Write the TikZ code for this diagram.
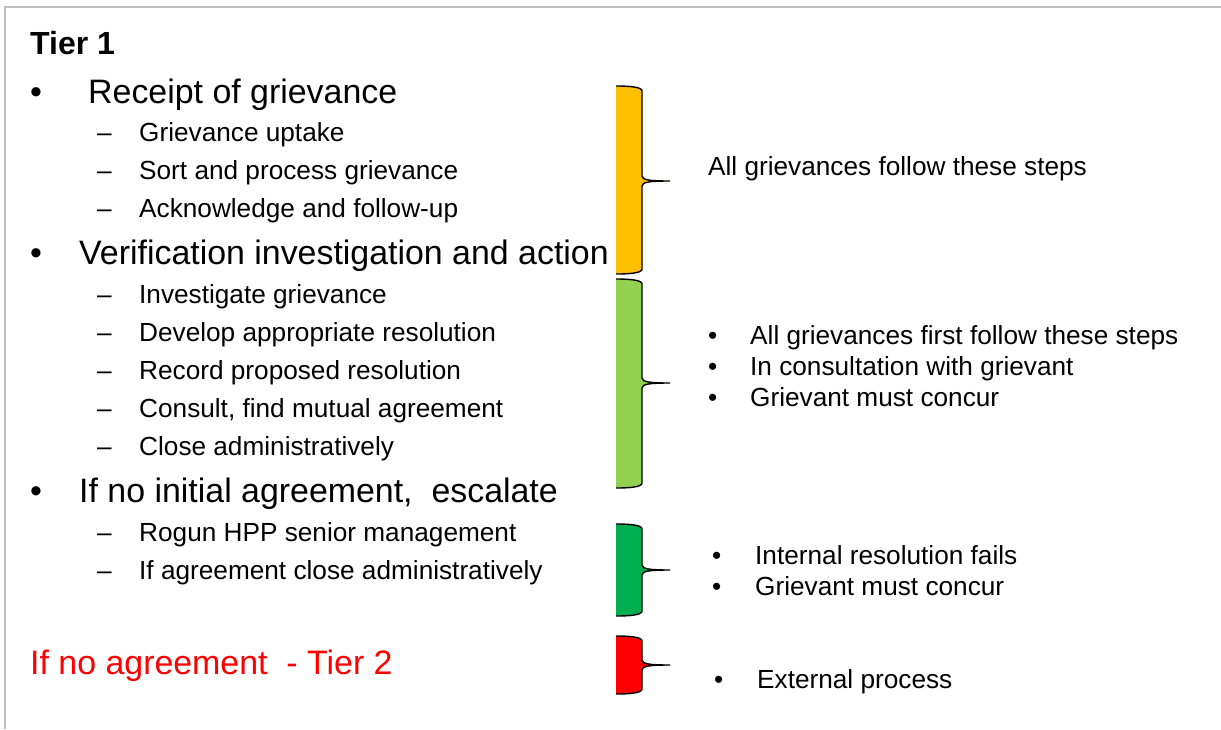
\documentclass[tikz,border=0pt]{standalone}
\usepackage{fontspec}
\setmainfont{Liberation Sans}
\definecolor{bYellow}{HTML}{FFC000}
\definecolor{bLGreen}{HTML}{92D050}
\definecolor{bGreen}{HTML}{00B050}
\definecolor{bRed}{HTML}{FF0000}
\definecolor{frameGray}{HTML}{BFBFBF}
\newcommand\mybrace[4]{%
  \fill[#1] (616,#2) .. controls (630,#2) and (642,#2+1) .. (642,#2+5) -- (642,#4-5)
    .. controls (642,#4-1) and (650,#4) .. (670,#4) .. controls (650,#4) and (642,#4+1) .. (642,#4+5)
    -- (642,#3-5) .. controls (642,#3-1) and (630,#3) .. (616,#3) -- cycle;
  \draw[bracestroke] (616,#2) .. controls (630,#2) and (642,#2+1) .. (642,#2+5) -- (642,#4-5)
    .. controls (642,#4-1) and (650,#4) .. (670,#4) .. controls (650,#4) and (642,#4+1) .. (642,#4+5)
    -- (642,#3-5) .. controls (642,#3-1) and (630,#3) .. (616,#3);
}
\tikzset{
  bracestroke/.style={black, line width=1.4pt},
  big/.style={anchor=base west, inner sep=0pt, font=\fontsize{33.9}{40}\selectfont},
  head/.style={anchor=base west, inner sep=0pt, font=\fontsize{32}{38}\selectfont\bfseries},
  small/.style={anchor=base west, inner sep=0pt, font=\fontsize{26.2}{31}\selectfont},
}
\begin{document}
\begin{tikzpicture}[x=1pt,y=-1pt]
\useasboundingbox (0,0) rectangle (1221,729);
\draw[frameGray, line width=2pt] (5,729) -- (5,7) -- (1221,7);
% left column
\node[head] (tier1) at (30,54) {Tier 1};
\node[big] (b1) at (30,103) {•};
\node[big] (t1) at (88,103) {Receipt of grievance};
\node[small] (d11) at (97,141) {–};
\node[small] (s11) at (139,141) {Grievance uptake};
\node[small] (d12) at (97,179) {–};
\node[small] (s12) at (139,179) {Sort and process grievance};
\node[small] (d13) at (97,217) {–};
\node[small] (s13) at (139,217) {Acknowledge and follow-up};
\node[big] (b2) at (30,264) {•};
\node[big] (t2) at (79,264) {Verification investigation and action};
\node[small] (d21) at (97,303) {–};
\node[small] (s21) at (139,303) {Investigate grievance};
\node[small] (d22) at (97,341) {–};
\node[small] (s22) at (139,341) {Develop appropriate resolution};
\node[small] (d23) at (97,379) {–};
\node[small] (s23) at (139,379) {Record proposed resolution};
\node[small] (d24) at (97,417) {–};
\node[small] (s24) at (139,417) {Consult, find mutual agreement};
\node[small] (d25) at (97,455) {–};
\node[small] (s25) at (139,455) {Close administratively};
\node[big] (b3) at (30,502) {•};
\node[big] (t3) at (79,502) {If no initial agreement,\ \ escalate};
\node[small] (d31) at (97,541) {–};
\node[small] (s31) at (139,541) {Rogun HPP senior management};
\node[small] (d32) at (97,579) {–};
\node[small] (s32) at (139,579) {If agreement close administratively};
\node[big, text=bRed] (tier2) at (30,674) {If no agreement\ \ - Tier 2};
% braces
\mybrace{bYellow}{86}{274}{181}
\mybrace{bLGreen}{279}{488}{383}
\mybrace{bGreen}{524}{616}{570}
\mybrace{bRed}{636}{694}{665}
% right column
\node[small] (r1) at (708,175) {All grievances follow these steps};
\node[small] (rb21) at (708,344) {•};
\node[small] (r21) at (750,344) {All grievances first follow these steps};
\node[small] (rb22) at (708,375) {•};
\node[small] (r22) at (750,375) {In consultation with grievant};
\node[small] (rb23) at (708,406) {•};
\node[small] (r23) at (750,406) {Grievant must concur};
\node[small] (rb31) at (712,564) {•};
\node[small] (r31) at (755,564) {Internal resolution fails};
\node[small] (rb32) at (712,595) {•};
\node[small] (r32) at (755,595) {Grievant must concur};
\node[small] (rb41) at (714,688) {•};
\node[small] (r41) at (757,688) {External process};
\end{tikzpicture}
\end{document}
